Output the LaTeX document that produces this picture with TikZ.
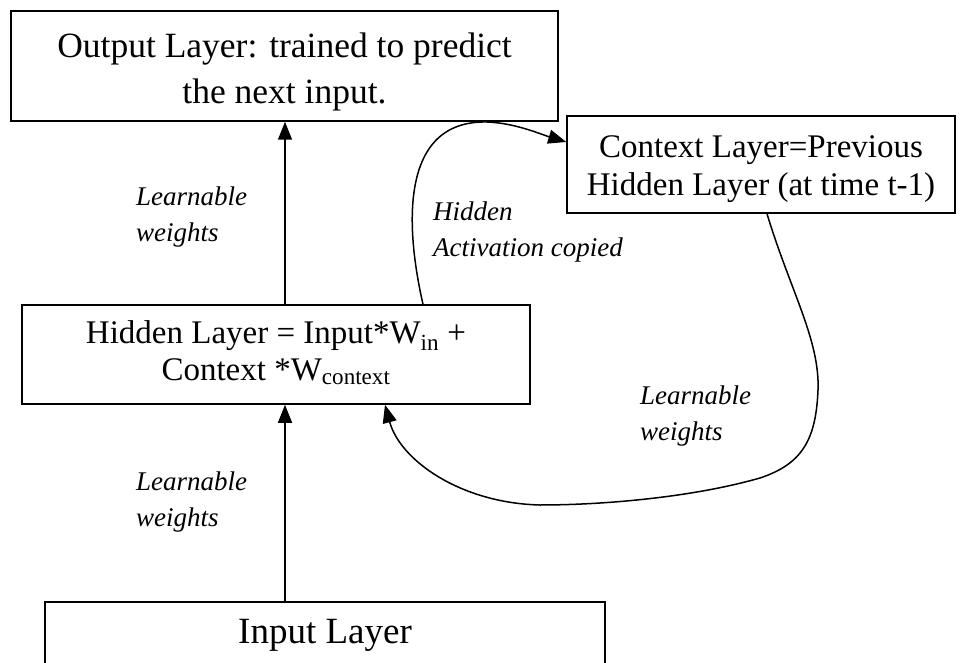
\documentclass[tikz,border=0pt]{standalone}
\usepackage{fontspec}
\setmainfont{Liberation Serif}
\usetikzlibrary{arrows.meta}
% shift the text of a box without changing the size it is centred by
\newcommand{\boxlines}[2]{\raisebox{#1}[\height][\depth]{\begin{tabular}{@{}c@{}}#2\end{tabular}}}
\begin{document}
\begin{tikzpicture}[x=1pt,y=-1pt,
  layer/.style={draw,line width=1.5pt,rectangle,inner sep=0pt},
  lbl/.style={anchor=north west,align=left,inner sep=0pt,font=\fontsize{27}{36}\selectfont\itshape},
  link/.style={line width=1.5pt,-{Triangle[length=18pt,width=14pt]}}]
\useasboundingbox (0,0) rectangle (961,663);
\clip (0,0) rectangle (961,663);
% layer boxes
\node[layer,minimum width=547pt,minimum height=110pt,font=\fontsize{35.5}{46}\selectfont] (out) at (284.5,66)
  {\boxlines{-5pt}{Output Layer: trained to predict\\the next input.}};
\node[layer,minimum width=388pt,minimum height=97pt,font=\fontsize{33}{38}\selectfont] (ctx) at (761,164.5)
  {\boxlines{-4pt}{Context Layer=Previous\\Hidden Layer (at time t-1)}};
\node[layer,minimum width=508pt,minimum height=99pt,font=\fontsize{33}{37}\selectfont] (hid) at (276,354.5)
  {\boxlines{0pt}{Hidden Layer = Input*W\textsubscript{in} +\\Context *W\textsubscript{context}}};
\node[layer,minimum width=560pt,minimum height=90pt,font=\fontsize{37}{40}\selectfont,anchor=north] (inp) at (325,601)
  {\raisebox{11pt}[\height][\depth]{Input Layer}};
% feed-forward connections
\draw[link] (inp.north -| 285,0) -- (hid.south -| 285,0);
\draw[link] (hid.north -| 285,0) -- (out.south -| 285,0);
% hidden activation copied into the context layer
\coordinate (cpyfrom) at (hid.north -| 423,0);
\coordinate (cpyto) at (ctx.west |- 0,142);
\draw[link] (cpyfrom) .. controls (406,230) and (398,120) .. (487,122) .. controls (515,123) and (540,134) .. (cpyto);
% context fed back into the hidden layer
\coordinate (fbfrom) at (ctx.south -| 767,0);
\coordinate (fbto) at (hid.south -| 385,0);
\draw[link] (fbfrom) .. controls (790,290) and (820,340) .. (818,390) .. controls (816,440) and (802,464) .. (760,478) .. controls (690,498) and (600,505) .. (540,505) .. controls (460,503) and (400,460) .. (fbto);
% weight labels
\node[lbl] (l1) at (136,187) {Learnable\\weights};
\node[lbl] (l2) at (433,202) {Hidden\\Activation copied};
\node[lbl] (l3) at (640,386) {Learnable\\weights};
\node[lbl] (l4) at (136,472) {Learnable\\weights};
\end{tikzpicture}
\end{document}
